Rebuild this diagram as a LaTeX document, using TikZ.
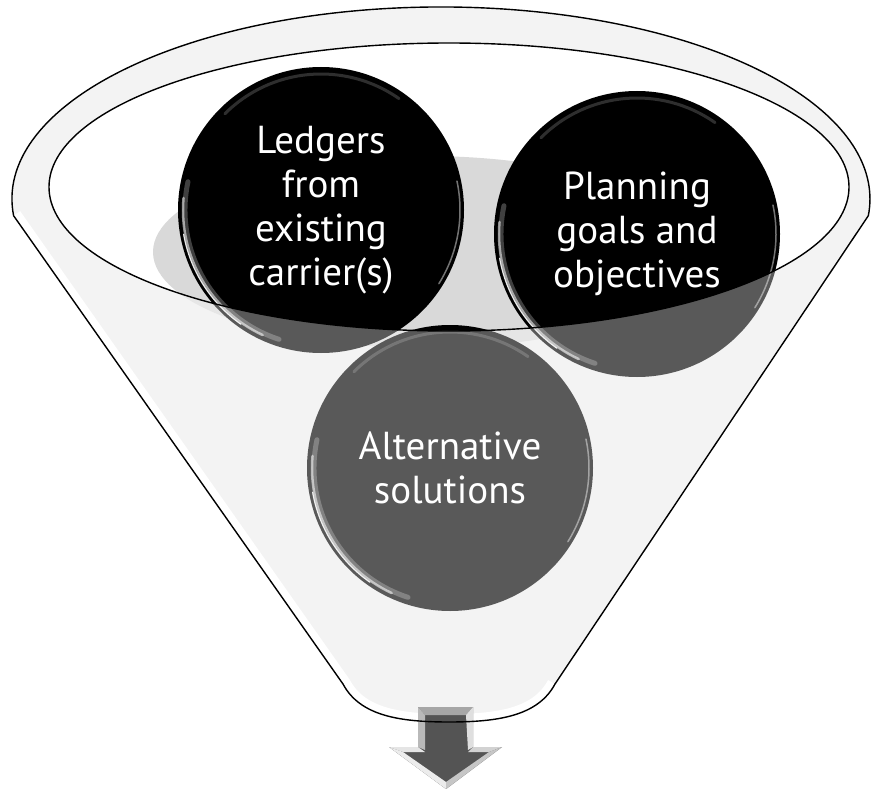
\documentclass[tikz,border=0pt]{standalone}
\usepackage{fontspec}
\setmainfont{PT Sans}
\begin{document}
\begin{tikzpicture}[x=1pt,y=-1pt,
  ball/.style={circle, minimum size=286pt, inner sep=0pt, fill=black,
    text=white, align=center, font=\fontsize{39}{44}\selectfont},
  glint/.style={white, line cap=round},
  rimline/.style={black, line width=1.4pt},
]
\definecolor{bodygray}{HTML}{EDEDED}
\definecolor{shadowgray}{HTML}{D9D9D9}
\definecolor{arrowgray}{HTML}{545454}
\useasboundingbox (0,0) rectangle (879,789);

% funnel outline: top rim arc, two sides, rounded spout
\def\funnelpath{(13.6,215.7) arc[start angle=175, end angle=365, x radius=429, y radius=192]
  -- (555,684) .. controls (538,716) and (498,722) .. (449,722)
  .. controls (400,722) and (360,716) .. (343,684) -- cycle}

% body of the funnel
\fill[bodygray] \funnelpath;
% white sheen along the inside of the left side and spout
\begin{scope}
  \clip \funnelpath;
  \draw[white, line width=16pt, line join=round]
    (13.6,215.7) -- (343,684) .. controls (360,716) and (400,722) .. (449,722)
    .. controls (498,722) and (538,716) .. (555,684);
\end{scope}

% mouth of the funnel
\coordinate (mouth) at (449,187);
\fill[white] (mouth) ellipse[x radius=400, y radius=144];

% soft shadow under the balls
\fill[shadowgray] (425,252) ellipse[x radius=272, y radius=96];

% the three balls
\node[ball] (ledgers)  at (321,210) {Ledgers\\from\\existing\\carrier(s)};
\node[ball] (planning) at (637,234) {Planning\\goals and\\objectives};
\node[ball] (alt)      at (450,468) {Alternative\\solutions};

% glossy bevel on each ball
\foreach \b in {ledgers, planning, alt} {
  \draw[glint, line width=5pt, opacity=0.25] (\b.center) ++(108:136) arc[start angle=108, end angle=192, radius=136];
  \draw[glint, line width=2.5pt, opacity=0.55] (\b.center) ++(115:138) arc[start angle=115, end angle=185, radius=138];
  \draw[glint, line width=1.2pt, opacity=0.9] (\b.center) ++(125:139.5) arc[start angle=125, end angle=170, radius=139.5];
  \draw[glint, line width=1.5pt, opacity=0.45] (\b.center) ++(-12:139) arc[start angle=-12, end angle=32, radius=139];
  \draw[glint, line width=3pt, opacity=0.18] (\b.center) ++(225:136) arc[start angle=225, end angle=305, radius=136];
}

% translucent front wall of the funnel
\fill[white, opacity=0.35, even odd rule] \funnelpath (mouth) ellipse[x radius=400, y radius=144];

% outgoing arrow under the spout
\fill[arrowgray] (418,707) -- (473,707) -- (473,747) -- (502,747) -- (446,789)
  -- (389,747) -- (418,747) -- cycle;
\fill[gray!70] (418,707) -- (473,707) -- (466,715) -- (425,715) -- cycle;
\fill[gray!25] (466,715) -- (473,707) -- (473,747) -- (468,750) -- cycle;
\fill[gray!55] (418,707) -- (425,715) -- (425,750) -- (418,747) -- cycle;
\fill[gray!20] (389,747) -- (418,747) -- (425,752) -- (403,752) -- cycle;
\fill[gray!35] (473,747) -- (502,747) -- (489,752) -- (468,752) -- cycle;
\fill[gray!15] (389,747) -- (403,752) -- (446,782) -- (446,789) -- cycle;
\fill[gray!45] (502,747) -- (489,752) -- (446,782) -- (446,789) -- cycle;

% outlines
\draw[rimline, line join=round] \funnelpath;
\draw[rimline] (mouth) ellipse[x radius=400, y radius=144];
\end{tikzpicture}
\end{document}
